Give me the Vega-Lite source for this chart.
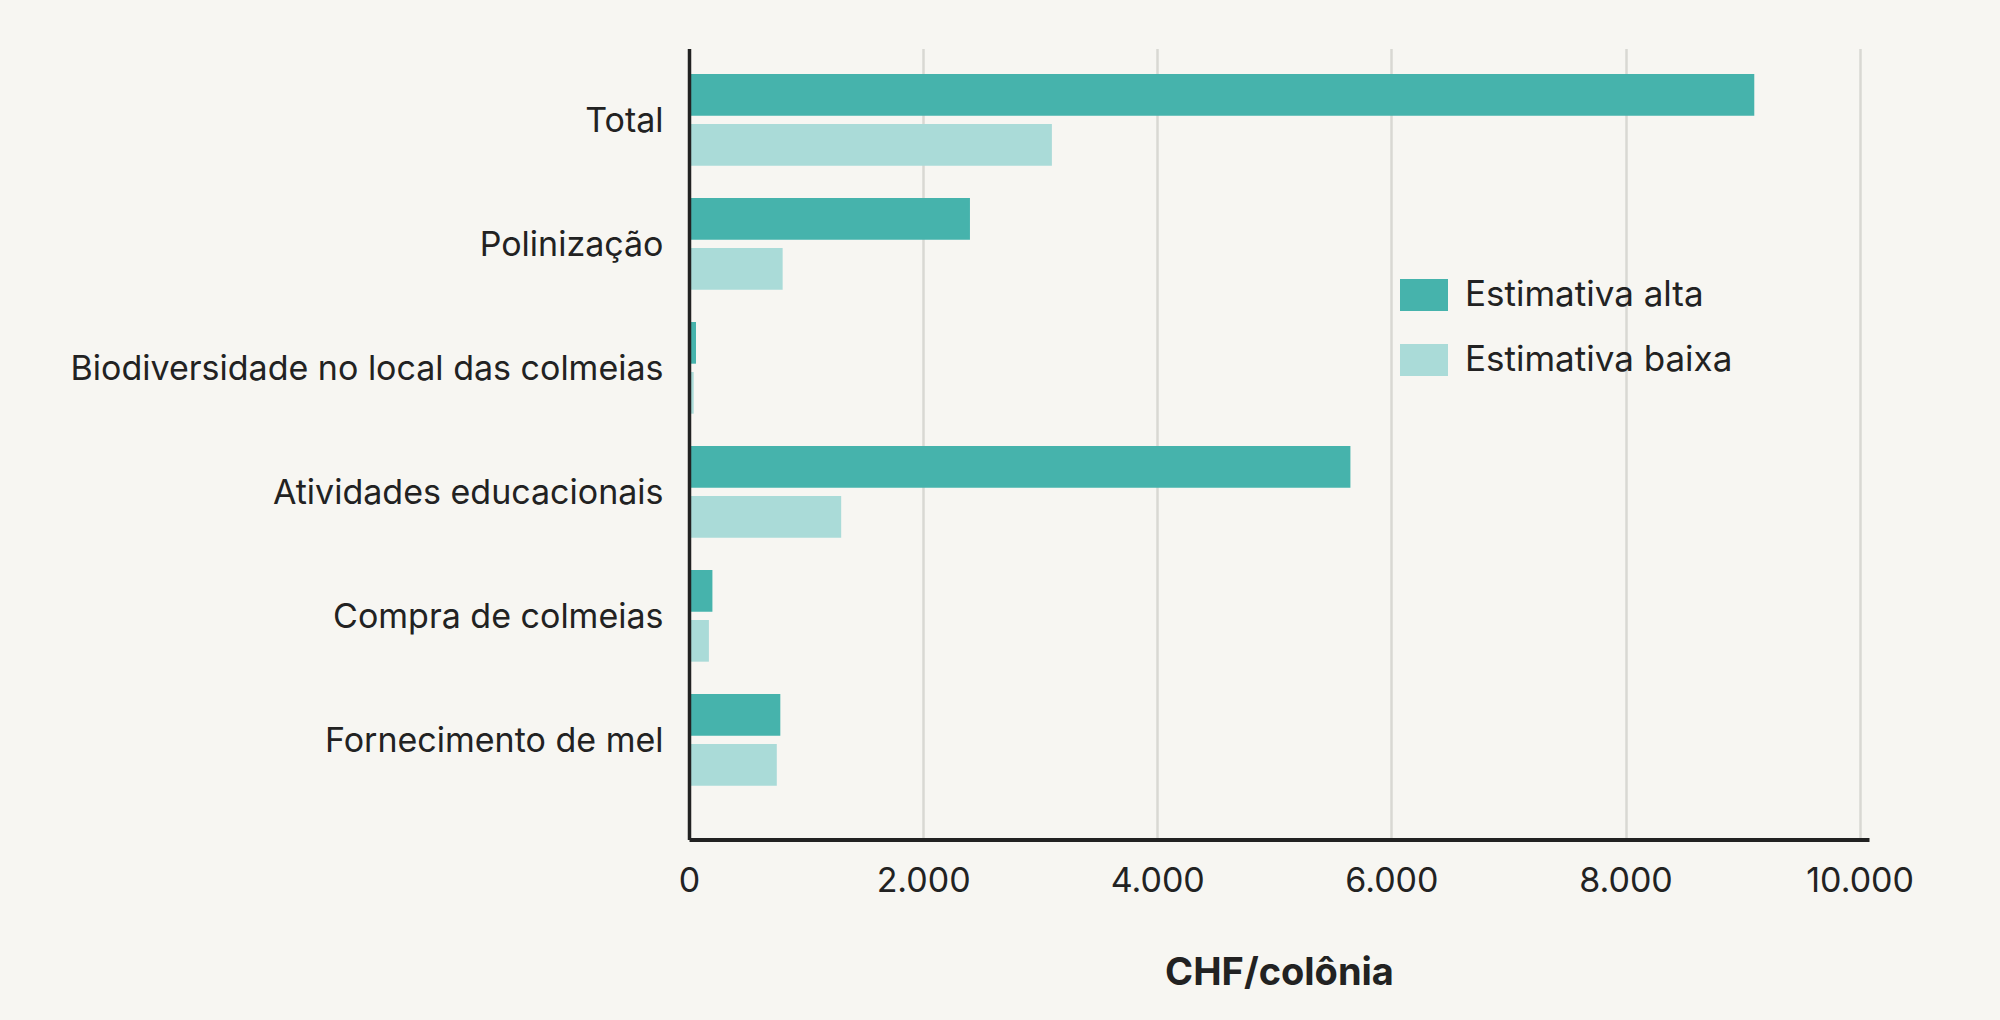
{
  "$schema": "https://vega.github.io/schema/vega-lite/v6.json",
  "width": 1180,
  "height": 791,
  "autosize": {"type": "none"},
  "padding": {"left": 689, "top": 48.5, "right": 131, "bottom": 180.5},
  "background": "#f7f6f2",
  "config": {"view": {"stroke": null}, "font": "Inter"},
  "data": {
    "values": [
      {"categoria": "Total", "estimativa": "Estimativa alta", "valor": 9100},
      {"categoria": "Total", "estimativa": "Estimativa baixa", "valor": 3100},
      {"categoria": "Polinização", "estimativa": "Estimativa alta", "valor": 2400},
      {"categoria": "Polinização", "estimativa": "Estimativa baixa", "valor": 800},
      {"categoria": "Biodiversidade no local das colmeias", "estimativa": "Estimativa alta", "valor": 60},
      {"categoria": "Biodiversidade no local das colmeias", "estimativa": "Estimativa baixa", "valor": 40},
      {"categoria": "Atividades educacionais", "estimativa": "Estimativa alta", "valor": 5650},
      {"categoria": "Atividades educacionais", "estimativa": "Estimativa baixa", "valor": 1300},
      {"categoria": "Compra de colmeias", "estimativa": "Estimativa alta", "valor": 200},
      {"categoria": "Compra de colmeias", "estimativa": "Estimativa baixa", "valor": 170},
      {"categoria": "Fornecimento de mel", "estimativa": "Estimativa alta", "valor": 780},
      {"categoria": "Fornecimento de mel", "estimativa": "Estimativa baixa", "valor": 750}
    ]
  },
  "mark": {"type": "bar"},
  "encoding": {
    "y": {
      "field": "categoria",
      "type": "nominal",
      "sort": ["Total", "Polinização", "Biodiversidade no local das colmeias", "Atividades educacionais", "Compra de colmeias", "Fornecimento de mel"],
      "scale": {"paddingInner": 0.2605, "paddingOuter": 0.32, "align": 0.3216},
      "axis": {
        "title": null,
        "labelFontSize": 34,
        "labelColor": "#222222",
        "labelPadding": 26,
        "labelLimit": 0,
        "labelOffset": 2,
        "ticks": false,
        "domainColor": "#222222",
        "domainWidth": 3.5,
        "grid": false,
        "zindex": 1
      }
    },
    "yOffset": {
      "field": "estimativa",
      "type": "nominal",
      "sort": ["Estimativa alta", "Estimativa baixa"],
      "scale": {"paddingInner": 0.166, "paddingOuter": 0}
    },
    "x": {
      "field": "valor",
      "type": "quantitative",
      "scale": {"domain": [0, 10080], "nice": false},
      "axis": {
        "values": [0, 2000, 4000, 6000, 8000, 10000],
        "labelExpr": "replace(format(datum.value, ','), ',', '.')",
        "labelFontSize": 34,
        "labelColor": "#222222",
        "labelPadding": 25,
        "labelFlush": false,
        "labelOverlap": false,
        "ticks": false,
        "domainColor": "#222222",
        "domainWidth": 4,
        "grid": true,
        "gridColor": "#d9d8d3",
        "gridWidth": 2.5,
        "title": "CHF/colônia",
        "titleFontSize": 38,
        "titleFontWeight": "bold",
        "titleColor": "#222222",
        "titlePadding": 56,
        "zindex": 0
      }
    },
    "color": {
      "field": "estimativa",
      "type": "nominal",
      "scale": {"domain": ["Estimativa alta", "Estimativa baixa"], "range": ["#46b3ac", "#aadbd8"]},
      "legend": {
        "title": null,
        "orient": "none",
        "legendX": 711,
        "legendY": 222.5,
        "padding": 0,
        "symbolType": "M-1,-0.667H1V0.667H-1Z",
        "symbolSize": 2304,
        "symbolStrokeWidth": 0,
        "symbolOpacity": 1,
        "labelFontSize": 35,
        "labelColor": "#222222",
        "labelOffset": 17,
        "labelLimit": 0,
        "rowPadding": 23
      }
    }
  }
}
